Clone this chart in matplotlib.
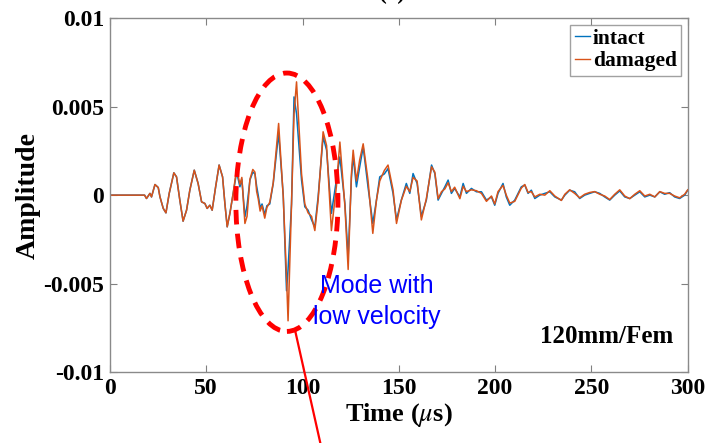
import numpy as np
import matplotlib
matplotlib.use("Agg")
import matplotlib.pyplot as plt
from matplotlib.patches import Ellipse
from matplotlib.lines import Line2D

# Sampled waveform (time in microseconds, amplitude in units of 1e-3)
time_us = [0, 18, 19, 20.8, 21.6, 23.4, 25.1, 26, 27.7, 29.1, 30.8, 33.2, 34.6, 36.3,
           38.0, 39.8, 41.5, 43.8, 45.8, 47.6, 49.3, 50.5, 51.9, 53.1, 54.9, 56.7, 58.5,
           59.7, 60.9, 62.3, 64.0, 65.8, 67.5, 68.5, 70.1, 71.2, 72.7, 74.2, 75.3, 76.2,
           77.0, 78.0, 79.0, 80.4, 81.5, 83.0, 84.8, 87.6, 90.0, 91.7, 92.5, 94.3, 95.6,
           96.9, 99.5, 101.2, 102.9, 104.7, 106.4, 108.1, 110.7, 112.5, 115.0, 117.6,
           119.4, 122.0, 123.7, 125.4, 126.3, 128.0, 129.7, 131.5, 134.0, 136.5, 138.4,
           140.1, 142.5, 144.4, 147.0, 148.8, 151.3, 153.9, 155.7, 157.4, 159.5, 161.7,
           164.3, 167.0, 168.7, 170.4, 172.2, 173.9, 175.6, 177.3, 179.0, 181.7, 183.4,
           185.1, 187.7, 190.3, 192.9, 195.5, 198.1, 199.8, 201.5, 204.1, 205.8, 207.6,
           210.2, 213.6, 215.4, 217.1, 218.8, 220.6, 223.2, 225.8, 228.4, 231.0, 234.4,
           236.2, 238.7, 241.3, 243.9, 246.5, 249.1, 251.7, 254.3, 256.9, 259.5, 262.1,
           264.7, 267.3, 269.9, 272.5, 275.1, 277.7, 280.3, 282.9, 285.5, 288.0, 290.6,
           293.2, 295.8, 298.4, 300.0]

intact_e3 = [0, 0, -0.19, 0.1, -0.1, 0.6, 0.43, -0.1, -0.75, -1.0, 0.1, 1.26, 1.03, -0.28,
             -1.47, -0.85, 0.28, 1.41, 0.66, -0.38, -0.47, -0.75, -0.57, -0.85, 0.47, 1.7, 1.03,
             -0.47, -1.79, -1.03, 0.1, 1.3, 0.47, 0.9, -1.22, -0.6, 0.85, 1.3, 1.2, 0.5,
             0.0, -0.7, -0.5, -1.1, -0.6, -0.5, 0.66, 3.5, 0.0, -5.4, -4.2, -0.5, 5.55,
             4.6, 0.85, -0.66, -0.85, -1.4, -1.8, -0.1, 3.3, 2.54, -1.03, 0.85,
             2.16, -0.47, -3.5, 1.0, 2.2, 0.47, 1.6, 2.73, 0.47, -1.6, -0.28,
             1.03, 1.2, 1.5, 0.1, -1.4, -0.28, 0.66, 0.1, 1.22, 0.66, -1.2,
             -0.28, 1.7, 1.22, -0.28, 0.1, 0.47, 0.85, 0.1, 0.38, -0.1, 0.66,
             0.1, 0.38, 0.19, 0.19, -0.28, -0.1, -0.57, 0.1, 0.66, -0.1, -0.57,
             -0.28, 0.47, 0.57, 0.1, 0.28, -0.19, 0.0, 0.1, 0.19, -0.1, -0.28,
             0.0, 0.28, 0.19, -0.19, 0.0, 0.1, 0.19, 0.1, -0.1, -0.28, 0.0,
             0.24, -0.1, -0.19, 0.0, 0.19, -0.1, 0.0, -0.1, 0.19, 0.05, 0.14,
             -0.1, -0.19, 0.0, 0.28]

damaged_e3 = [0, 0, -0.19, 0.1, -0.1, 0.6, 0.43, -0.1, -0.75, -1.0, 0.1, 1.26, 1.03, -0.28,
              -1.47, -0.85, 0.28, 1.41, 0.66, -0.38, -0.47, -0.75, -0.57, -0.85, 0.47, 1.7, 1.03,
              -0.47, -1.79, -1.03, 0.1, 1.5, 0.6, 1.0, -1.6, -1.2, 0.9, 1.45, 1.3, 0.2,
              -0.2, -0.9, -0.6, -1.3, -0.7, -0.4, 0.7, 4.05, -0.1, -4.6, -7.1, -0.5, 4.6,
              6.4, 1.2, -0.5, -1.0, -1.2, -2.0, -0.3, 3.58, 2.8, -2.0, 0.5,
              3.0, -0.6, -4.2, 1.2, 2.54, 0.8, 2.0, 2.9, 0.85, -2.16, -0.28,
              0.8, 1.4, 1.7, 0.3, -1.6, -0.3, 0.5, 0.2, 1.0, 0.8, -1.4,
              -0.2, 1.6, 1.3, -0.2, 0.2, 0.35, 0.7, 0.2, 0.45, -0.2, 0.5,
              0.2, 0.3, 0.25, 0.1, -0.35, -0.05, -0.5, 0.2, 0.55, 0.0, -0.45,
              -0.35, 0.4, 0.6, 0.15, 0.2, -0.1, 0.05, 0.0, 0.25, -0.05, -0.3,
              0.05, 0.3, 0.1, -0.15, 0.05, 0.15, 0.2, 0.05, -0.05, -0.25, 0.05,
              0.3, -0.05, -0.2, 0.05, 0.25, -0.05, 0.05, -0.1, 0.2, 0.1, 0.1,
              -0.05, -0.15, 0.05, 0.3]

series_labels = ["intact", "damaged"]
x_ticks = [0, 50, 100, 150, 200, 250, 300]
y_ticks = [-0.01, -0.005, 0, 0.005, 0.01]
y_tick_labels = ["-0.01", "-0.005", "0", "0.005", "0.01"]

blue = "#0072BD"
orange = "#D95319"
serif = ["Liberation Serif", "DejaVu Serif"]
plt.rcParams["mathtext.fontset"] = "stix"

t = np.array(time_us)
intact = np.array(intact_e3) * 1e-3
damaged = np.array(damaged_e3) * 1e-3

fig = plt.figure(figsize=(7.09, 4.43), dpi=100)
ax = fig.add_axes([0.155, 0.160, 0.815, 0.799])

ax.plot(t, intact, color=blue, lw=1.1, label=series_labels[0])
ax.plot(t, damaged, color=orange, lw=1.1, label=series_labels[1])

ax.set_xlim(0, 300)
ax.set_ylim(-0.01, 0.01)
ax.set_xticks(x_ticks)
ax.set_yticks(y_ticks)
ax.set_yticklabels(y_tick_labels)
ax.tick_params(direction="in", top=True, right=True, length=5, width=0.8,
               color="#808080", labelsize=17, pad=4)
for lab in ax.get_xticklabels() + ax.get_yticklabels():
    lab.set_fontfamily(serif)
    lab.set_fontweight("bold")
for sp in ax.spines.values():
    sp.set_color("#8a8a8a")
    sp.set_linewidth(1.0)

ax.set_xlabel(r"Time ($\mu$s)", fontsize=19, fontweight="bold", family=serif, labelpad=2)
ax.set_ylabel("Amplitude", fontsize=20, fontweight="bold", family=serif, labelpad=2)

leg = ax.legend(loc="upper right", prop={"family": serif, "weight": "bold", "size": 15.5},
                frameon=True, fancybox=False, handlelength=0.7, handletextpad=0.15,
                borderpad=0.2, labelspacing=0.1, borderaxespad=0.3)
leg.get_frame().set_edgecolor("#8a8a8a")
leg.get_frame().set_linewidth(1.0)
for h in leg.get_lines():
    h.set_linewidth(1.0)

# Dashed ellipse around the low-velocity mode
ell = Ellipse((91.9, -0.0004), width=53, height=0.0146, fill=False, edgecolor="red",
              lw=3.5, linestyle=(0, (3.0, 1.9)), zorder=5)
ax.add_patch(ell)

ax.text(138.5, -0.0060, "Mode with\nlow velocity", color="blue", fontsize=18,
        family=["Liberation Sans", "DejaVu Sans"], ha="center", va="center",
        linespacing=1.4, zorder=6)
ax.text(0.975, 0.1, "120mm/Fem", transform=ax.transAxes, ha="right", va="center",
        fontsize=18, fontweight="bold", family=serif)

# Pointer line leaving the ellipse downward
fig.add_artist(Line2D([295 / 709, 321 / 709], [1 - 330 / 443, 1 - 446 / 443],
                      color="red", lw=1.6, transform=fig.transFigure, clip_on=False))

fig.text(392 / 709, 1 + 1 / 443, "(c)", ha="center", va="baseline", fontsize=17,
         fontweight="bold", family=serif)

fig.savefig("out.png", dpi=100)
